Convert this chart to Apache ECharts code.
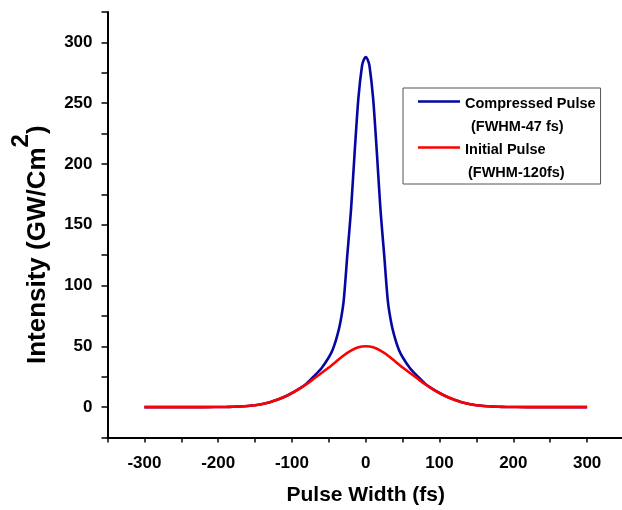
<!DOCTYPE html>
<html>
<head>
<meta charset="utf-8">
<script src="https://cdn.jsdelivr.net/npm/echarts@6/dist/echarts.min.js"></script>
<style>
html,body{margin:0;padding:0;background:#fff;}
#chart{width:622px;height:510px;}
</style>
</head>
<body>
<div id="chart"></div>
<script>
// ---- data ----
var seriesNames = ['Compressed Pulse', 'Initial Pulse'];
var legendNotes = ['(FWHM-47 fs)', '(FWHM-120fs)'];
var xTitle = 'Pulse Width (fs)';
var yTitleMain = 'Intensity (GW/Cm';
var yTitleSup = '2';
var yTitleEnd = ')';

var compressedTime = [-300, -280, -260, -240, -220, -200, -190, -180, -170, -160, -150, -140, -130, -120, -110, -100, -90, -80, -70, -60, -50, -45, -40, -35, -30, -25, -20, -15, -10, -5, -2.5, 0, 2.5, 5, 10, 15, 20, 25, 30, 35, 40, 45, 50, 60, 70, 80, 90, 100, 110, 120, 130, 140, 150, 160, 170, 180, 190, 200, 220, 240, 260, 280, 300];
var compressedIntensity = [0, 0, 0, 0, 0.02, 0.05, 0.12, 0.25, 0.5, 0.9, 1.5, 2.6, 4, 6, 8.5, 11.6, 15.2, 19.5, 25.5, 32, 41, 47, 56, 68, 87, 125, 162, 210, 254, 281, 286, 288, 286, 281, 254, 210, 162, 125, 87, 68, 56, 47, 41, 32, 25.5, 19.5, 15.2, 11.6, 8.5, 6, 4, 2.6, 1.5, 0.9, 0.5, 0.25, 0.12, 0.05, 0.02, 0, 0, 0, 0];

var initialTime = [-300, -280, -260, -240, -220, -210, -200, -190, -180, -170, -160, -150, -140, -130, -120, -110, -100, -90, -80, -70, -60, -50, -40, -30, -20, -10, 0, 10, 20, 30, 40, 50, 60, 70, 80, 90, 100, 110, 120, 130, 140, 150, 160, 170, 180, 190, 200, 210, 220, 240, 260, 280, 300];
var initialIntensity = [0, 0, 0, 0, 0, 0.02, 0.05, 0.12, 0.25, 0.5, 0.9, 1.5, 2.6, 4, 6, 8.5, 11.5, 15, 19, 23.5, 28, 32.5, 37.5, 42.5, 46.5, 49.2, 50, 49.2, 46.5, 42.5, 37.5, 32.5, 28, 23.5, 19, 15, 11.5, 8.5, 6, 4, 2.6, 1.5, 0.9, 0.5, 0.25, 0.12, 0.05, 0.02, 0, 0, 0, 0, 0];

var xMin = -350, xMax = 350, xStep = 50, xLabelStep = 100;
var yMin = -25, yMax = 325, yStep = 25, yLabelStep = 50;

function zip(xs, ys) {
  var out = [];
  for (var i = 0; i < xs.length; i++) out.push([xs[i], ys[i]]);
  return out;
}

var FONT = 'Liberation Sans, Arial, sans-serif';
var chart = echarts.init(document.getElementById('chart'), null, {renderer: 'canvas'});

var option = {
  backgroundColor: '#ffffff',
  animation: false,
  grid: {left: 107.5, width: 516.5, top: 12, bottom: 72.5, containLabel: false, outerBoundsMode: 'none'},
  legend: {
    data: seriesNames,
    orient: 'vertical',
    left: 403,
    top: 88,
    itemGap: 0,
    itemWidth: 42,
    itemHeight: 46,
    icon: 'path://M0,0L0.01,0M0,8.25H42V10.75H0ZM0,46L0.01,46',
    itemStyle: {borderWidth: 0},
    borderColor: '#555',
    borderWidth: 1,
    padding: [4, 5, 0, 15],
    formatter: function (name) {
      var idx = seriesNames.indexOf(name);
      return '{a|' + name + '}\n{' + (idx === 0 ? 'b' : 'c') + '|' + legendNotes[idx] + '}';
    },
    textStyle: {
      color: '#000',
      rich: {
        a: {fontSize: 14.5, fontWeight: 'bold', fontFamily: FONT, lineHeight: 23, color: '#000'},
        b: {fontSize: 14.5, fontWeight: 'bold', fontFamily: FONT, lineHeight: 23, color: '#000', padding: [0, 0, 0, 6]},
        c: {fontSize: 14.5, fontWeight: 'bold', fontFamily: FONT, lineHeight: 23, color: '#000', padding: [0, 0, 0, 3]}
      }
    }
  },
  xAxis: {
    type: 'value',
    min: xMin,
    max: xMax,
    interval: xStep,
    name: xTitle,
    nameLocation: 'middle',
    nameGap: 47,
    nameTextStyle: {fontSize: 21, fontWeight: 'bold', fontFamily: FONT, color: '#000'},
    axisLine: {show: true, onZero: false, lineStyle: {color: '#000', width: 2}},
    axisTick: {show: true, inside: false, length: 5, lineStyle: {color: '#000', width: 1.5}},
    splitLine: {show: false},
    axisLabel: {
      margin: 17,
      fontSize: 17,
      fontWeight: 'bold',
      fontFamily: FONT,
      color: '#000',
      showMinLabel: true,
      showMaxLabel: true,
      formatter: function (v) { return (Math.abs(v) % xLabelStep === 0 && Math.abs(v) <= 300) ? String(v) : ''; }
    }
  },
  yAxis: {
    type: 'value',
    min: yMin,
    max: yMax,
    interval: yStep,
    name: '{a|' + yTitleMain + '}{s|' + yTitleSup + '}{a|' + yTitleEnd + '}',
    nameLocation: 'middle',
    nameRotate: 90,
    nameGap: 42,
    nameTextStyle: {
      padding: [0, 40, 0, 0],
      rich: {
        a: {fontSize: 26, fontWeight: 'bold', fontFamily: FONT, color: '#000'},
        s: {fontSize: 24, fontWeight: 'bold', fontFamily: FONT, color: '#000', padding: [0, 0, 32, 0]}
      }
    },
    axisLine: {show: true, onZero: false, lineStyle: {color: '#000', width: 2}},
    axisTick: {show: true, inside: false, length: 6, lineStyle: {color: '#000', width: 1.5}},
    splitLine: {show: false},
    axisLabel: {
      margin: 15,
      fontSize: 17,
      fontWeight: 'bold',
      fontFamily: FONT,
      color: '#000',
      formatter: function (v) { return (v >= 0 && v % yLabelStep === 0 && v <= 300) ? String(v) : ''; }
    }
  },
  series: [
    {
      name: seriesNames[0],
      type: 'line',
      data: zip(compressedTime, compressedIntensity),
      color: '#0606a2',
      showSymbol: false,
      symbol: 'none',
      smooth: 0.25,
      lineStyle: {color: '#0606a2', width: 2.6},
      z: 2
    },
    {
      name: seriesNames[1],
      type: 'line',
      data: zip(initialTime, initialIntensity),
      color: '#ff0000',
      showSymbol: false,
      symbol: 'none',
      smooth: 0.25,
      lineStyle: {color: '#ff0000', width: 2.6},
      z: 3
    }
  ]
};
chart.setOption(option);
</script>
</body>
</html>
